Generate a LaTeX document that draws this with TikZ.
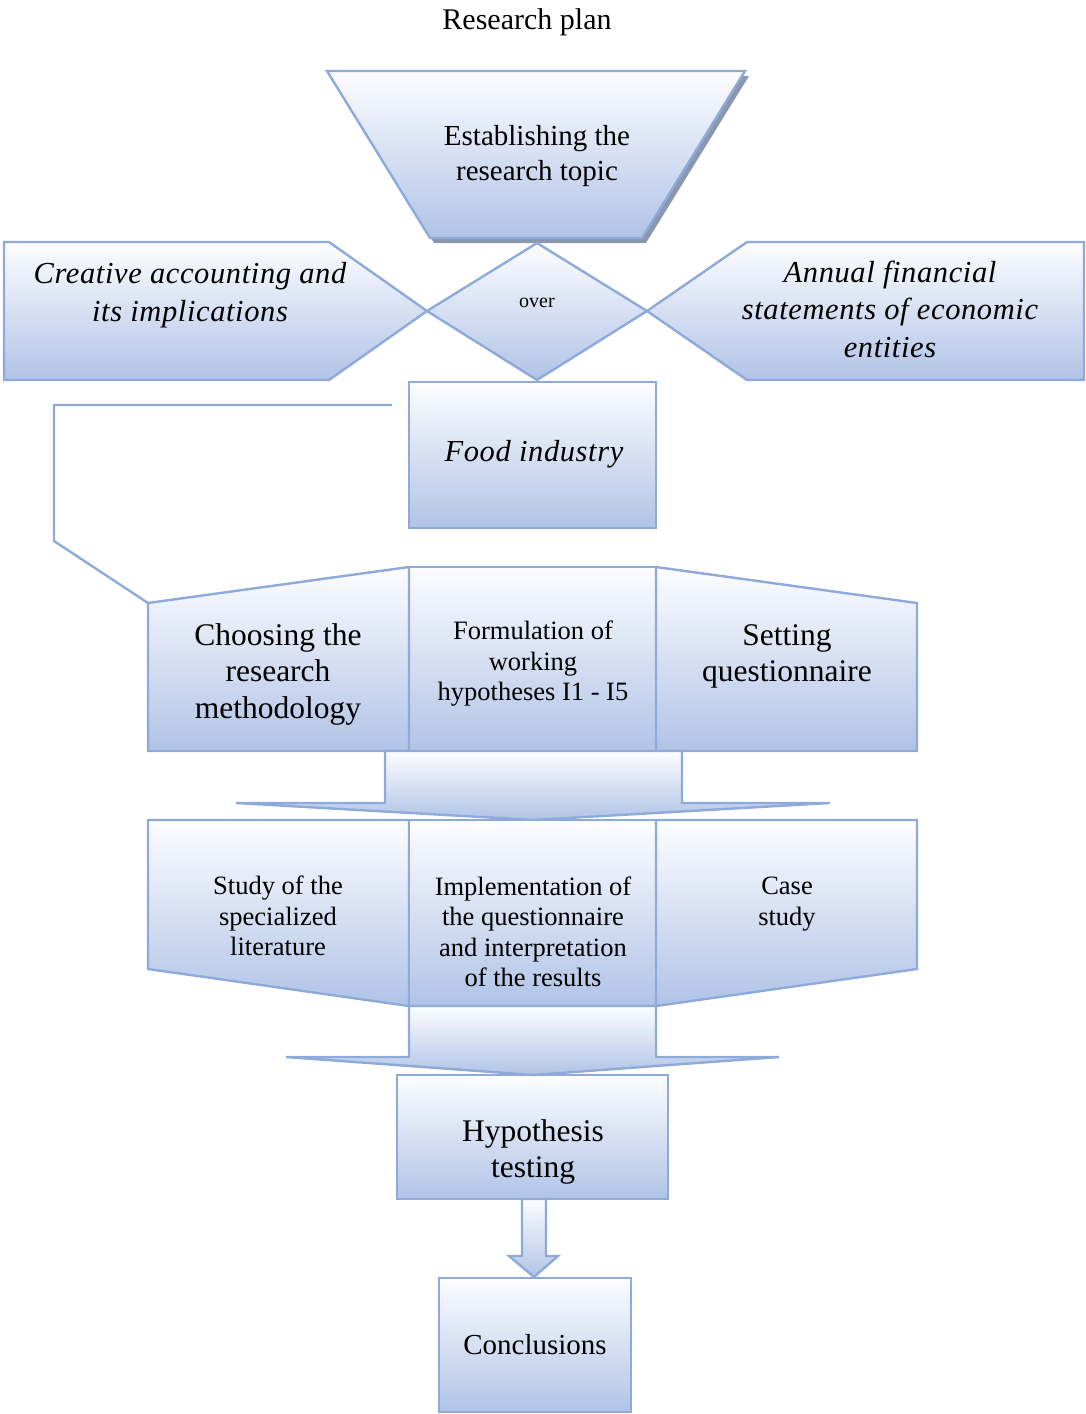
\documentclass[tikz,border=0pt]{standalone}
\usepackage{fontspec}
\setmainfont{Liberation Serif}
\newfontfamily\planit[LetterSpace=2.0]{Liberation Serif}
\usetikzlibrary{calc,positioning}
\definecolor{planline}{HTML}{8EAADB}   % outline of every shape
\definecolor{plantop}{HTML}{FDFDFF}    % light end of the fill
\definecolor{planbot}{HTML}{B0C3E6}    % blue end of the fill
\definecolor{planshadow}{HTML}{8A97AD}
\newcommand{\ftitle}{\fontsize{30}{35}\selectfont}
\newcommand{\fbig}{\fontsize{31.5}{36.5}\selectfont}
\newcommand{\fmid}{\fontsize{29}{35}\selectfont}
\newcommand{\fsmall}{\fontsize{26.5}{30.5}\selectfont}
\newcommand{\fital}{\planit\fontsize{30.5}{37.5}\selectfont\itshape}
\newcommand{\ftiny}{\fontsize{20}{24}\selectfont}
\tikzset{
  stage/.style={draw=planline, line width=2.4pt, top color=plantop,
                bottom color=planbot, line join=miter},
  conn/.style={draw=planline, line width=2.4pt},
  lbl/.style={align=center, inner sep=0pt},
}

\begin{document}
\begin{tikzpicture}[x=1pt,y=-1pt]
                    \useasboundingbox (0,0) rectangle (1086,1414);
                    \node[lbl,font=\ftitle] (title) at (527,22) {Research plan};

                    % topic and the two fields it joins
                    \fill[planshadow] (331,76)--(749,76)--(646,243)--(434,243)--cycle;
                    \draw[stage] (327,71)--(745,71)--(642,238)--(430,238)--cycle;
                    \draw[stage] (4,242)--(329,242)--(427,311)--(329,380)--(4,380)--cycle;
                    \draw[stage] (747,242)--(1084,242)--(1084,380)--(747,380)--(647,311)--cycle;
                    \draw[stage] (537,243)--(647,311)--(537,380)--(427,311)--cycle;
                    \node[lbl,font=\fmid] (topic) at (537,156) {Establishing the\\research topic};
                    \node[lbl,font=\fital] (creative) at (190,295) {Creative accounting and\\its implications};
                    \node[lbl,font=\ftiny] (over) at (537,303) {over};
                    \node[lbl,font=\fital] (annual) at (890,309) {Annual financial\\statements of economic\\entities};

                    % plain boxes
                    \foreach \xa/\ya/\xb/\yb in {409/382/656/528, 409/567/656/751,
                                                 397/1075/668/1199, 439/1278/631/1412}
                    {
                        \draw[stage] (\xa,\ya) rectangle (\xb,\yb);
                    }
                    \node[lbl,font=\fital] (food) at (534,454) {Food industry};

                    \coordinate (brk) at (392,405);
                    \coordinate (chtl) at (148,603);
                    \draw[conn] (brk) -- (54,405) -- (54,541) -- (chtl);

                    % methodology row
                    \draw[stage] (chtl)--(409,567)--(409,751)--(148,751)--cycle;
                    \draw[stage] (656,567)--(917,603)--(917,751)--(656,751)--cycle;
                    \node[lbl,font=\fbig] (choose) at (278,674) {Choosing the\\research\\methodology};
                    \node[lbl,font=\fsmall] (formul) at (533,664) {Formulation of\\working\\hypotheses I1 - I5};
                    \node[lbl,font=\fbig] (setq) at (787,656.5) {Setting\\questionnaire};

                    \draw[stage] (385,751)--(385,803)--(236,803)--(533,820)--(830,803)--(682,803)--(682,751)--cycle;

                    % research row
                    \draw[stage] (148,820)--(409,820)--(409,1006)--(148,969)--cycle;
                    \draw[stage] (409,820) rectangle (656,1006);
                    \draw[stage] (656,820)--(917,820)--(917,969)--(656,1006)--cycle;
                    \node[lbl,font=\fsmall] (study) at (278,916) {Study of the\\specialized\\literature};
                    \node[lbl,font=\fsmall] (implem) at (533,932) {Implementation of\\the questionnaire\\and interpretation\\of the results};
                    \node[lbl,font=\fsmall] (casest) at (787,904) {Case\\study};

                    \draw[stage] (409,1006)--(409,1057)--(286,1057)--(533,1075)--(779,1057)--(656,1057)--(656,1006)--cycle;

                    % results
                    \draw[stage] (522,1199)--(522,1256)--(509,1256)--(534,1277)--(558,1256)--(546,1256)--(546,1199)--cycle;
                    \node[lbl,font=\fbig] (hypo) at (533,1152) {Hypothesis\\testing};
                    \node[lbl,font=\fmid] (concl) at (535,1345) {Conclusions};
                \end{tikzpicture}
\end{document}
